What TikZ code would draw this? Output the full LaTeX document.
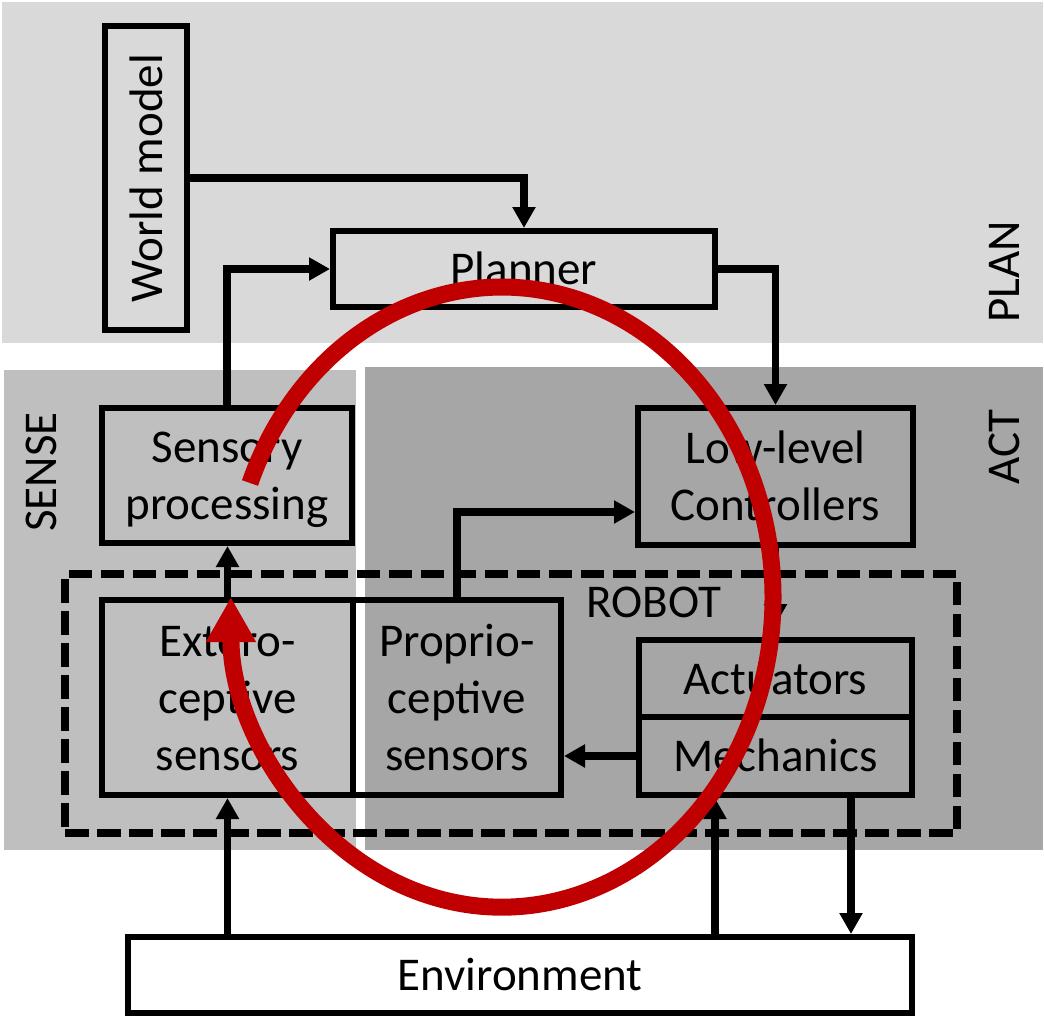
\documentclass[tikz,border=0pt]{standalone}
\usepackage{fontspec}
\setmainfont{Carlito}
\usetikzlibrary{arrows.meta}
\definecolor{planbg}{HTML}{D9D9D9}
\definecolor{sensebg}{HTML}{BFBFBF}
\definecolor{actbg}{HTML}{A6A6A6}
\definecolor{loopred}{HTML}{C00000}
\begin{document}
\begin{tikzpicture}[x=1pt,y=-1pt,
  lbl/.style={font=\fontsize{47}{57}\selectfont, inner sep=0pt},
  box/.style={draw, line width=6pt, inner sep=0pt, align=center, font=\fontsize{47}{57}\selectfont, text height=40pt, text depth=9pt},
  twolines/.style={text height=97pt},
  threelines/.style={text height=154pt},
  conn/.style={line width=7.5pt, -{Triangle[length=21pt,width=22pt]}},
  robotbox/.style={draw, line width=7.5pt, dash pattern=on 23.5pt off 8.5pt, inner sep=0pt},
  loop/.style={line width=17pt, loopred, -{Triangle[length=45pt,width=47pt]}}
]
\useasboundingbox (0,0) rectangle (1044,1017);
\fill[white] (0,0) rectangle (1044,1017);
% background regions
\fill[planbg] (2,2) rectangle (1043,343);
\fill[sensebg] (4,370) rectangle (356,850);
\fill[actbg] (365,367) rectangle (1043,850);

% region labels
\node[lbl, rotate=90] (sense) at (41,472) {SENSE};
\node[lbl, rotate=90] (plan) at (1004,272) {PLAN};
\node[lbl, rotate=90] (actl) at (1004,447) {ACT};

% robot
\node[robotbox, minimum width=892pt, minimum height=259pt] (robot) at (511,703.5) {};
\node[lbl] (robotl) at (654,602) {ROBOT};

% boxes
\node[box, text height=, text depth=, minimum width=82pt, minimum height=304pt] (wm) at (146,178) {\rotatebox{90}{World model}};
\node[box, minimum width=382pt, minimum height=76pt] (pl) at (524,269) {Planner};
\node[box, twolines, minimum width=250pt, minimum height=135pt] (sp) at (227,475.5) {Sensory\\processing};
\node[box, twolines, minimum width=275pt, minimum height=137pt] (ll) at (775.5,476.5) {Low-level\\Controllers};
\node[box, threelines, minimum width=251pt, minimum height=195pt] (ext) at (227.5,697.5) {Extero-\\ceptive\\sensors};
\node[box, threelines, minimum width=208pt, minimum height=195pt] (pro) at (457,697.5) {Proprio-\\ceptive\\sensors};
\node[box, minimum width=273pt, minimum height=77pt] (act) at (775.5,678.5) {Actuators};
\node[box, minimum width=273pt, minimum height=78pt] (mech) at (775.5,756) {Mechanics};
\node[box, fill=white, minimum width=784pt, minimum height=76pt] (env) at (520,975) {Environment};

% helper points on mechanics bottom
\path ([xshift=-60.5pt]mech.south) coordinate (mIn);
\path ([xshift=75.5pt]mech.south) coordinate (mOut);

% connectors
\draw[conn] (wm.east) -| (pl.north);
\draw[conn] (sp.north) |- (pl.west);
\draw[conn] (pl.east) -| (ll.north);
\draw[conn, shorten >=12pt] (ll.south) -- (act.north);
\draw[conn] (ext.north) -- (ext.north |- sp.south);
\draw[conn] (pro.north) |- ([yshift=-35.5pt]ll.west);
\draw[conn] (mech.west) -- (mech.west -| pro.east);
\draw[conn] (ext.south |- env.north) -- (ext.south);
\draw[conn] (mIn |- env.north) -- (mIn);
\draw[conn] (mOut) -- (mOut |- env.north);

% red loop
\draw[loop] (250,483) arc[start angle=158.4, end angle=-180, x radius=271pt, y radius=310pt];
\end{tikzpicture}
\end{document}
